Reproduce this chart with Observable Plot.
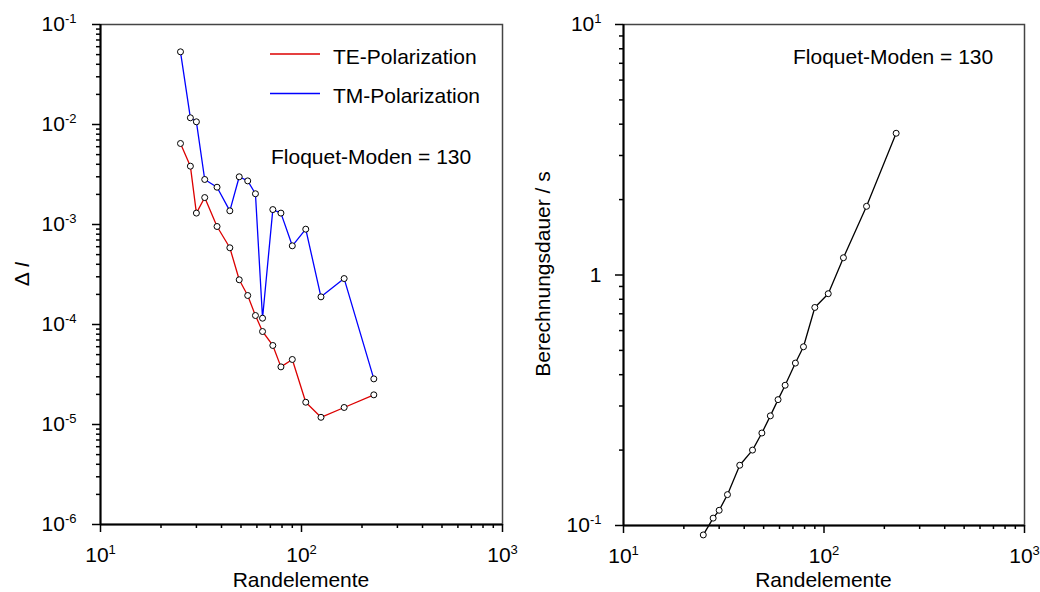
<!DOCTYPE html>
<html><head><meta charset="utf-8">
<script src="https://cdn.jsdelivr.net/npm/d3@7"></script>
<script src="https://cdn.jsdelivr.net/npm/@observablehq/plot@0.6"></script>
<style>
body{margin:0;background:#fff;}
#chart{display:flex;width:1040px;height:592px;background:#fff;}
#chart svg{display:block;}
</style></head><body><div id="chart"></div>
<script>
// ---- data ----
const randelemente = [25, 28, 30, 33, 38, 44, 49, 54, 59, 64, 72, 79, 90, 105, 125, 163, 229];
const deltaTE = [0.00646, 0.00383, 0.00130, 0.00186, 0.000955, 0.000585, 0.000280, 0.000195, 0.000123, 0.0000851, 0.0000617, 0.0000377, 0.0000447, 0.0000167, 0.0000118, 0.0000148, 0.0000198];
const deltaTM = [0.0533, 0.01167, 0.01064, 0.00282, 0.00236, 0.00137, 0.00300, 0.00273, 0.00203, 0.0001156, 0.00141, 0.00130, 0.000612, 0.000898, 0.000189, 0.000288, 0.0000286];
const berechnungsdauer = [0.0917, 0.107, 0.115, 0.1328, 0.174, 0.200, 0.234, 0.274, 0.318, 0.363, 0.445, 0.517, 0.742, 0.842, 1.172, 1.88, 3.68];

const seriesNames = ["TE-Polarization", "TM-Polarization"];
const seriesColors = ["#dc0000", "#0000ff"];
const annotation = "Floquet-Moden = 130";
const xTitle = "Randelemente";
const yTitleRight = "Berechnungsdauer / s";

const xMajor = [10, 100, 1000];
const xMajorLabels = ["10^1", "10^2", "10^3"];
const yMajorLeft = [1e-6, 1e-5, 1e-4, 1e-3, 1e-2, 1e-1];
const yMajorLeftLabels = ["10^-6", "10^-5", "10^-4", "10^-3", "10^-2", "10^-1"];
const yMajorRight = [0.1, 1, 10];
const yMajorRightLabels = ["10^-1", "1", "10^1"];
const minorOf = majors => majors.slice(0, -1).flatMap(m => [2,3,4,5,6,7,8,9].map(k => k * m));

const te = randelemente.map((x, i) => ({x, y: deltaTE[i]}));
const tm = randelemente.map((x, i) => ({x, y: deltaTM[i]}));
const dd = randelemente.map((x, i) => ({x, y: berechnungsdauer[i]}));

const FONT = "'Liberation Sans', Arial, sans-serif";

function fmt(values, labels) {
  return d => labels[values.indexOf(d)];
}

function axes(yMajor, yLabels, yPad) {
  return [
    Plot.frame({stroke: "#444", strokeWidth: 1.5}),
    Plot.axisX(minorOf(xMajor), {tickSize: 4, fill: "none", stroke: "black", strokeWidth: 1.5, label: null}),
    Plot.axisX(xMajor, {tickSize: 8, tickPadding: 15, stroke: "black", strokeWidth: 1.5, tickFormat: fmt(xMajor, xMajorLabels), label: null}),
    Plot.axisY(minorOf(yMajor), {tickSize: 4, fill: "none", stroke: "black", strokeWidth: 1.5, label: null}),
    Plot.axisY(yMajor, {tickSize: 8, tickPadding: yPad, stroke: "black", strokeWidth: 1.5, tickFormat: fmt(yMajor, yLabels), label: null}),
    Plot.ruleX([xMajor[0]], {stroke: "black", strokeWidth: 2}),
    Plot.ruleY([yMajor[0]], {stroke: "black", strokeWidth: 2})
  ];
}

function supify(svg) {
  d3.select(svg).selectAll("text").each(function () {
    const t = this.textContent;
    if (!t.includes("^")) return;
    const [base, exp] = t.split("^");
    const sel = d3.select(this);
    sel.text(null);
    sel.append("tspan").text(base);
    sel.append("tspan").attr("dy", "-8").attr("font-size", "13px").text(exp);
  });
}

const style = {fontFamily: FONT, fontSize: "21px", background: "white", color: "black", overflow: "visible"};

// ---- left plot ----
const left = Plot.plot({
  width: 520, height: 592,
  marginLeft: 100, marginRight: 18, marginTop: 24, marginBottom: 68,
  style,
  x: {type: "log", domain: [10, 1000]},
  y: {type: "log", domain: [1e-6, 1e-1]},
  marks: [
    ...axes(yMajorLeft, yMajorLeftLabels, 16),
    Plot.line(tm, {x: "x", y: "y", stroke: seriesColors[1], strokeWidth: 1.3}),
    Plot.line(te, {x: "x", y: "y", stroke: seriesColors[0], strokeWidth: 1.3}),
    Plot.dot(tm, {x: "x", y: "y", r: 3, fill: "white", stroke: "black", strokeWidth: 1}),
    Plot.dot(te, {x: "x", y: "y", r: 3, fill: "white", stroke: "black", strokeWidth: 1})
  ]
});
supify(left);
{
  const s = d3.select(left);
  const g = s.append("g").attr("font-family", FONT).attr("font-size", "21px").attr("fill", "black").attr("text-anchor", "start");
  // legend
  [[54, 0], [93.5, 1]].forEach(([yy, i]) => {
    g.append("line").attr("x1", 270).attr("x2", 320).attr("y1", yy).attr("y2", yy)
      .attr("stroke", seriesColors[i]).attr("stroke-width", 1.3);
    g.append("text").attr("x", 333).attr("y", yy + 9.5).text(seriesNames[i]);
  });
  g.append("text").attr("x", 271).attr("y", 163.5).text(annotation);
  g.append("text").attr("x", 301).attr("y", 587).attr("text-anchor", "middle").text(xTitle);
  const yt = g.append("text").attr("transform", "translate(29,274) rotate(-90)").attr("text-anchor", "middle");
  yt.append("tspan").text("Δ ");
  yt.append("tspan").attr("font-style", "italic").text("I");
}

// ---- right plot ----
const right = Plot.plot({
  width: 520, height: 592,
  marginLeft: 103, marginRight: 16, marginTop: 24, marginBottom: 67,
  style,
  x: {type: "log", domain: [10, 1000]},
  y: {type: "log", domain: [0.1, 10]},
  marks: [
    ...axes(yMajorRight, yMajorRightLabels, 14),
    Plot.line(dd, {x: "x", y: "y", stroke: "black", strokeWidth: 1.3}),
    Plot.dot(dd, {x: "x", y: "y", r: 3, fill: "white", stroke: "black", strokeWidth: 1})
  ]
});
supify(right);
{
  const s = d3.select(right);
  const g = s.append("g").attr("font-family", FONT).attr("font-size", "21px").attr("fill", "black").attr("text-anchor", "start");
  g.append("text").attr("x", 273).attr("y", 63.5).text(annotation);
  g.append("text").attr("x", 303.5).attr("y", 587).attr("text-anchor", "middle").text(xTitle);
  g.append("text").attr("transform", "translate(30,274) rotate(-90)").attr("text-anchor", "middle").text(yTitleRight);
}

document.getElementById("chart").append(left, right);
</script>
</body></html>
